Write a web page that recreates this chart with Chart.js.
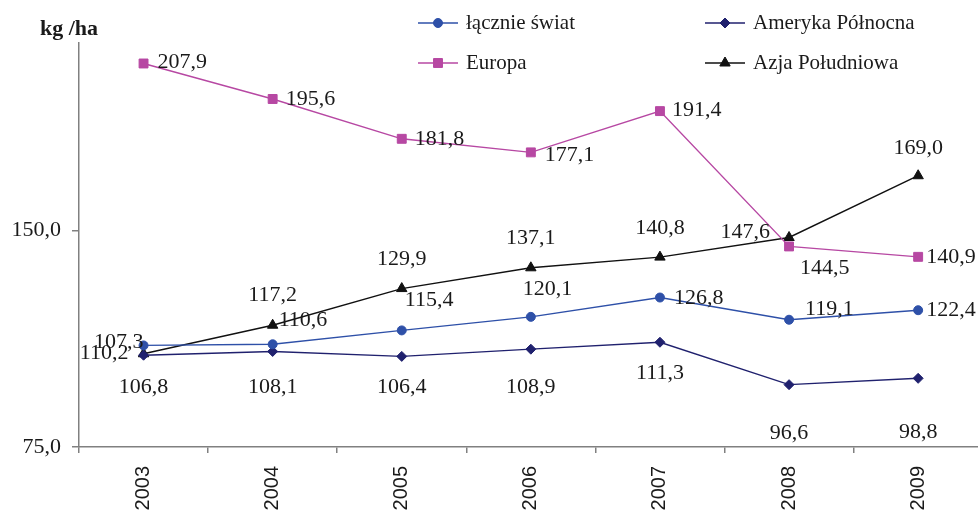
<!DOCTYPE html>
<html>
<head>
<meta charset="utf-8">
<script src="https://cdn.jsdelivr.net/npm/chart.js@4/dist/chart.umd.min.js"></script>
<style>
  html, body { margin: 0; padding: 0; background: #fff; overflow: hidden; }
  /* the category axis runs a few pixels past the window's right edge */
  #wrap { width: 990px; height: 511px; }
</style>
</head>
<body>
<div id="wrap"><canvas id="c" width="990" height="511"></canvas></div>
<script>
// Nawożenie mineralne (kg NPK na ha)
const years = ['2003', '2004', '2005', '2006', '2007', '2008', '2009'];
const swiat = [110.2, 110.6, 115.4, 120.1, 126.8, 119.1, 122.4];
const ameryka = [106.8, 108.1, 106.4, 108.9, 111.3, 96.6, 98.8];
const europa = [207.9, 195.6, 181.8, 177.1, 191.4, 144.5, 140.9];
const azja = [107.3, 117.2, 129.9, 137.1, 140.8, 147.6, 169.0];
const yTicks = [75, 150];
const unitLabel = 'kg /ha';

const SERIF = '"Liberation Serif", "Times New Roman", serif';
const SANS = '"Liberation Sans", Arial, sans-serif';

const fmt = v => v.toFixed(1).replace('.', ',');

// label placement for each point: [dx, dy, align]
const labelPos = {
  swiat:   [[-15, 8, 'right'], [6, -24, 'left'], [3, -30, 'left'], [-8, -28, 'left'], [14, 1, 'left'], [16, -11, 'left'], [8, 0, 'left']],
  ameryka: [[0, 32, 'center'], [0, 36, 'center'], [0, 31, 'center'], [0, 38, 'center'], [0, 31, 'center'], [0, 49, 'center'], [0, 54, 'center']],
  europa:  [[14, -1, 'left'], [13, 0, 'left'], [13, 0, 'left'], [14, 3, 'left'], [12, -1, 'left'], [11, 22, 'left'], [8, 0, 'left']],
  azja:    [[0, -12, 'right'], [0, -30, 'center'], [0, -29, 'center'], [0, -30, 'center'], [0, -29, 'center'], [-19, -5, 'right'], [0, -28, 'center']]
};

const legendSlots = [[418, 23], [705, 23], [418, 63], [705, 63]];

const valueLabels = {
  id: 'valueLabels',
  afterDatasetsDraw(chart) {
    const ctx = chart.ctx;
    ctx.save();
    ctx.font = '22px ' + SERIF;
    ctx.fillStyle = '#1a1a1a';
    ctx.textBaseline = 'middle';
    chart.data.datasets.forEach((ds, i) => {
      const meta = chart.getDatasetMeta(i);
      meta.data.forEach((pt, j) => {
        const p = labelPos[ds.key][j];
        ctx.textAlign = p[2];
        ctx.fillText(fmt(ds.data[j]), pt.x + p[0], pt.y + p[1]);
      });
    });
    ctx.restore();
  }
};

const legendAndUnit = {
  id: 'legendAndUnit',
  afterDraw(chart) {
    const ctx = chart.ctx;
    ctx.save();
    // unit above the value axis
    ctx.font = 'bold 22px ' + SERIF;
    ctx.fillStyle = '#1a1a1a';
    ctx.textAlign = 'left';
    ctx.textBaseline = 'alphabetic';
    ctx.fillText(unitLabel, 40, 35);
    // legend, two columns
    chart.data.datasets.forEach((ds, i) => {
      const [x, y] = legendSlots[i];
      ctx.strokeStyle = ds.borderColor;
      ctx.lineWidth = ds.borderWidth;
      ctx.beginPath();
      ctx.moveTo(x, y);
      ctx.lineTo(x + 40, y);
      ctx.stroke();
      ctx.save();
      ctx.fillStyle = ds.pointBackgroundColor;
      ctx.strokeStyle = ds.pointBorderColor;
      ctx.lineWidth = 1;
      Chart.helpers.drawPoint(ctx, { pointStyle: ds.pointStyle, radius: ds.pointRadius, borderWidth: 1 }, x + 20, y);
      ctx.restore();
      ctx.font = '21px ' + SERIF;
      ctx.fillStyle = '#1a1a1a';
      ctx.textBaseline = 'middle';
      ctx.fillText(ds.label, x + 48, y);
    });
    ctx.restore();
  }
};

function series(key, label, data, color, style, radius) {
  return {
    key, label, data,
    borderColor: color,
    backgroundColor: color,
    pointBackgroundColor: color,
    pointBorderColor: color,
    borderWidth: 1.4,
    pointStyle: style,
    pointRadius: radius,
    pointBorderWidth: 1,
    tension: 0
  };
}

new Chart(document.getElementById('c'), {
  type: 'line',
  data: {
    labels: years,
    datasets: [
      series('swiat', 'łącznie świat', swiat, '#2E50A8', 'circle', 4.5),
      series('ameryka', 'Ameryka Północna', ameryka, '#20216E', 'rectRot', 5),
      series('europa', 'Europa', europa, '#B748A3', 'rect', 6.3),
      series('azja', 'Azja Południowa', azja, '#111111', 'triangle', 6)
    ]
  },
  options: {
    responsive: false,
    animation: false,
    layout: { padding: { top: 43, left: 0, right: 0, bottom: 0 } },
    plugins: { legend: { display: false }, tooltip: { enabled: false } },
    scales: {
      x: {
        type: 'category',
        offset: true,
        afterFit(s) { s.height = 64; },
        grid: { offset: true, drawOnChartArea: false, drawTicks: true, tickLength: 6, color: '#808080', lineWidth: 1.5 },
        border: { display: true, color: '#808080', width: 1.5 },
        ticks: { font: { family: SANS, size: 20 }, color: '#1a1a1a', minRotation: 90, maxRotation: 90, padding: 13, autoSkip: false }
      },
      y: {
        min: 75,
        max: 215,
        afterFit(s) { s.width = 79; },
        afterBuildTicks(s) { s.ticks = yTicks.map(v => ({ value: v })); },
        grid: { drawOnChartArea: false, drawTicks: true, tickLength: 7, color: '#808080', lineWidth: 1.5 },
        border: { display: true, color: '#808080', width: 1.5 },
        ticks: { font: { family: SERIF, size: 22 }, color: '#1a1a1a', padding: 11, callback: v => fmt(v) }
      }
    }
  },
  plugins: [valueLabels, legendAndUnit]
});
</script>
</body>
</html>
